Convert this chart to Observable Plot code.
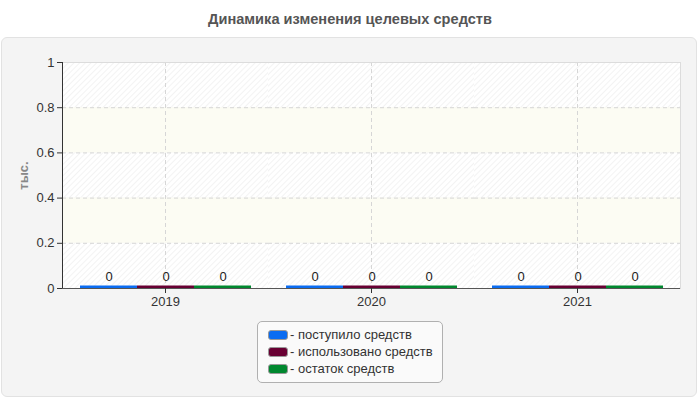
<!DOCTYPE html>
<html><head><meta charset="utf-8">
<script src="https://cdn.jsdelivr.net/npm/d3@7"></script>
<script src="https://cdn.jsdelivr.net/npm/@observablehq/plot@0.6"></script>
<style>
body{margin:0;background:#fff;font-family:"Liberation Sans",Arial,sans-serif;width:700px;height:400px;position:relative;overflow:hidden}
#title{position:absolute;left:0;top:11px;width:700px;text-align:center;font-weight:bold;font-size:14.6px;color:#555}
#panel{position:absolute;left:1px;top:37px;width:694px;height:358px;border:1px solid #e2e2e2;border-radius:6px;background:#f4f4f4}
#chart{position:absolute;left:0;top:0}
#legend{position:absolute;left:255px;top:283px;width:174px;height:53px;border:1px solid #b0b0b0;border-radius:5px;background:#fafafa;padding:4px 0 3px 10px}
.item{height:17px;line-height:17px;font-size:13px;color:#333;white-space:nowrap}
.sw{display:inline-block;width:18px;height:8px;border:1px solid #999;border-radius:3px;vertical-align:middle;margin-right:2px;margin-top:-2px}
</style></head>
<body>
<div id="title">Динамика изменения целевых средств</div>
<div id="panel"><div id="chart"></div><div id="legend"></div></div>
<script>
const years = ["2019", "2020", "2021"];
const seriesNames = ["поступило средств", "использовано средств", "остаток средств"];
const received = [0, 0, 0];
const used = [0, 0, 0];
const remainder = [0, 0, 0];
const colors = ["#0a6cf2", "#680033", "#00882f"];
const yTicks = [0, 0.2, 0.4, 0.6, 0.8, 1];
const yLabel = "тыс.";

const seriesValues = [received, used, remainder];
const table = years.flatMap((y, i) => seriesNames.map((s, j) => ({year: y, series: s, value: seriesValues[j][i]})));
const bands = yTicks.slice(0, -1).map((t, i) => ({y1: t, y2: yTicks[i + 1], shade: i % 2}));

const chart = Plot.plot({
  width: 694, height: 280,
  marginLeft: 60, marginRight: 16, marginTop: 24, marginBottom: 30,
  style: {background: "transparent", color: "#333", fontFamily: "Liberation Sans, Arial, sans-serif", fontSize: "13px"},
  fx: {domain: years, padding: 0, label: null},
  x: {domain: seriesNames, paddingInner: 0, paddingOuter: 0.295, axis: null},
  y: {domain: [0, 1], axis: null},
  color: {domain: seriesNames, range: colors},
  marks: [
    Plot.rect(bands.filter(d => !d.shade), {y1: "y1", y2: "y2", fill: "url(#hatch)"}),
    Plot.rect(bands.filter(d => d.shade), {y1: "y1", y2: "y2", fill: "#fcfcf3"}),
    Plot.gridY(yTicks.slice(1, -1), {stroke: "#d6d6d6", strokeOpacity: 1, strokeDasharray: "4,3"}),
    Plot.gridFx({stroke: "#d6d6d6", strokeOpacity: 1, strokeDasharray: "4,3"}),
    Plot.frame({anchor: "top", stroke: "#dcdcdc"}),
    Plot.frame({anchor: "right", facetAnchor: "right", stroke: "#dcdcdc"}),
    Plot.frame({anchor: "left", facetAnchor: "left", stroke: "#333"}),
    Plot.barY(table, {fx: "year", x: "series", y: "value", fill: "series"}),
    Plot.tickY(table, {fx: "year", x: "series", y: "value", stroke: "series", strokeWidth: 3, dy: -1.5}),
    Plot.ruleY([0], {stroke: "#555"}),
    Plot.text(table, {fx: "year", x: "series", y: "value", text: d => String(d.value), dy: -12, fontSize: 13, fill: "#222"}),
    Plot.axisY({ticks: yTicks, tickFormat: d => String(d), tickSize: 5, tickPadding: 3, fontSize: 13, label: yLabel, labelAnchor: "center", labelArrow: "none", labelOffset: 44}),
    Plot.axisFx({anchor: "bottom", tickSize: 5, tickPadding: 3, fontSize: 13, label: null})
  ]
});

const ns = "http://www.w3.org/2000/svg";
const defs = document.createElementNS(ns, "defs");
defs.innerHTML = '<pattern id="hatch" width="4" height="4" patternUnits="userSpaceOnUse" patternTransform="rotate(45)"><rect width="4" height="4" fill="#ffffff"/><line x1="0" y1="0" x2="0" y2="4" stroke="#ececec" stroke-width="1.2"/></pattern>';
chart.insertBefore(defs, chart.firstChild);
d3.select(chart).selectAll('[aria-label="y-axis label"]').attr("fill", "#888").attr("font-weight", "bold");
document.getElementById("chart").appendChild(chart);

const legend = d3.select("#legend");
seriesNames.forEach((s, i) => {
  const it = legend.append("div").attr("class", "item");
  it.append("span").attr("class", "sw").style("background", colors[i]);
  it.append("span").text("- " + s);
});
</script>
</body></html>
